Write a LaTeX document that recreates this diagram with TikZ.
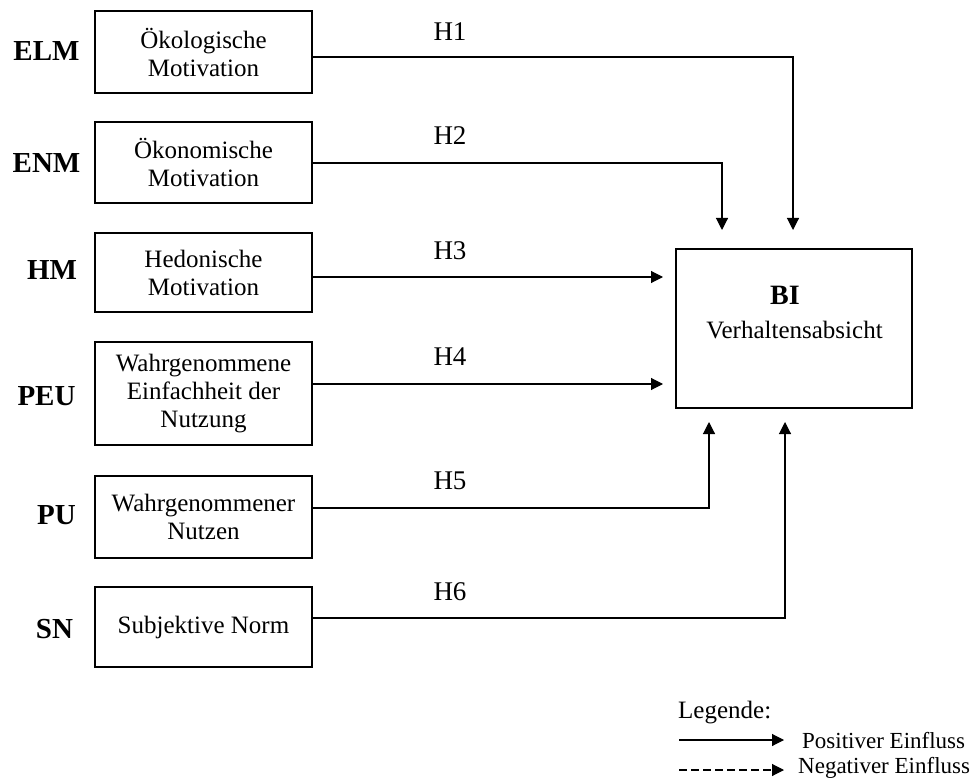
\documentclass[tikz,border=0pt]{standalone}
\usepackage{fontspec}
\setmainfont{Liberation Serif}
\usetikzlibrary{arrows.meta}
\begin{document}
\begin{tikzpicture}[x=1pt,y=-1pt,
  factor/.style={draw, line width=1.1pt, minimum width=217pt, inner sep=0pt,
    align=center, font=\fontsize{25}{28}\selectfont},
  abbr/.style={inner sep=0pt, font=\bfseries\fontsize{29}{33}\selectfont},
  hyp/.style={inner sep=0pt, font=\fontsize{27}{31}\selectfont},
  link/.style={line width=1.1pt, -{Triangle[length=12pt,width=12pt]}},
  legtext/.style={inner sep=0pt, anchor=base west, font=\fontsize{23}{26}\selectfont}]
\useasboundingbox (0,0) rectangle (978,778);

% predictor constructs
\node[factor, minimum height=82pt]  (elm) at (203.5,52)    {Ökologische\\Motivation};
\node[factor, minimum height=81pt]  (enm) at (203.5,162.5) {Ökonomische\\Motivation};
\node[factor, minimum height=79pt]  (hm)  at (203.5,272.5) {Hedonische\\Motivation};
\node[factor, minimum height=103pt] (peu) at (203.5,393.5) {Wahrgenommene\\Einfachheit der\\Nutzung};
\node[factor, minimum height=82pt]  (pu)  at (203.5,517)   {Wahrgenommener\\Nutzen};
\node[factor, minimum height=80pt]  (sn)  at (203.5,627)   {Subjektive Norm};

% abbreviations
\node[abbr] (lelm) at (46.5,51)  {ELM};
\node[abbr] (lenm) at (46.5,163) {ENM};
\node[abbr] (lhm)  at (52,270)   {HM};
\node[abbr] (lpeu) at (46.5,396) {PEU};
\node[abbr] (lpu)  at (56.5,515) {PU};
\node[abbr] (lsn)  at (54.5,629) {SN};

% outcome construct
\node[draw, line width=1.1pt, minimum width=236pt, minimum height=159pt] (bi) at (794,328.5) {};
\node[anchor=base, inner sep=0pt, font=\bfseries\fontsize{28}{32}\selectfont] (bilabel) at (785,305) {BI};
\node[anchor=base, inner sep=0pt, font=\fontsize{25}{28}\selectfont] (biname) at (794.5,338) {Verhaltensabsicht};

% arrow end points
\coordinate (t1) at (793,230);
\coordinate (t2) at (722,230);
\coordinate (t3) at (663,277);
\coordinate (t4) at (663,384);
\coordinate (t5) at (709,422);
\coordinate (t6) at (785,422);

% hypotheses
\draw[link] ([yshift=-5pt]elm.east) -| (t1);
\draw[link] ([yshift=-0.5pt]enm.east) -| (t2);
\draw[link] ([yshift=-4.5pt]hm.east) -- (t3);
\draw[link] ([yshift=9.5pt]peu.east) -- (t4);
\draw[link] ([yshift=9pt]pu.east) -| (t5);
\draw[link] ([yshift=9pt]sn.east) -| (t6);

\node[hyp] (h1) at (450,32)  {H1};
\node[hyp] (h2) at (450,136) {H2};
\node[hyp] (h3) at (450,251) {H3};
\node[hyp] (h4) at (450,357) {H4};
\node[hyp] (h5) at (450,481) {H5};
\node[hyp] (h6) at (450,592) {H6};

% legend
\node[legtext, font=\fontsize{25}{28}\selectfont] (legtitle) at (678,718) {Legende:};
\coordinate (p0) at (679,740);
\coordinate (p1) at (784,740);
\draw[link] (p0) -- (p1);
\node[legtext] (pos) at (802,748) {Positiver Einfluss};
\coordinate (n0) at (679,770);
\coordinate (n1) at (784,770);
\draw[link, dash pattern=on 8pt off 4pt] (n0) -- (n1);
\node[legtext] (neg) at (798,773) {Negativer Einfluss};
\end{tikzpicture}
\end{document}
